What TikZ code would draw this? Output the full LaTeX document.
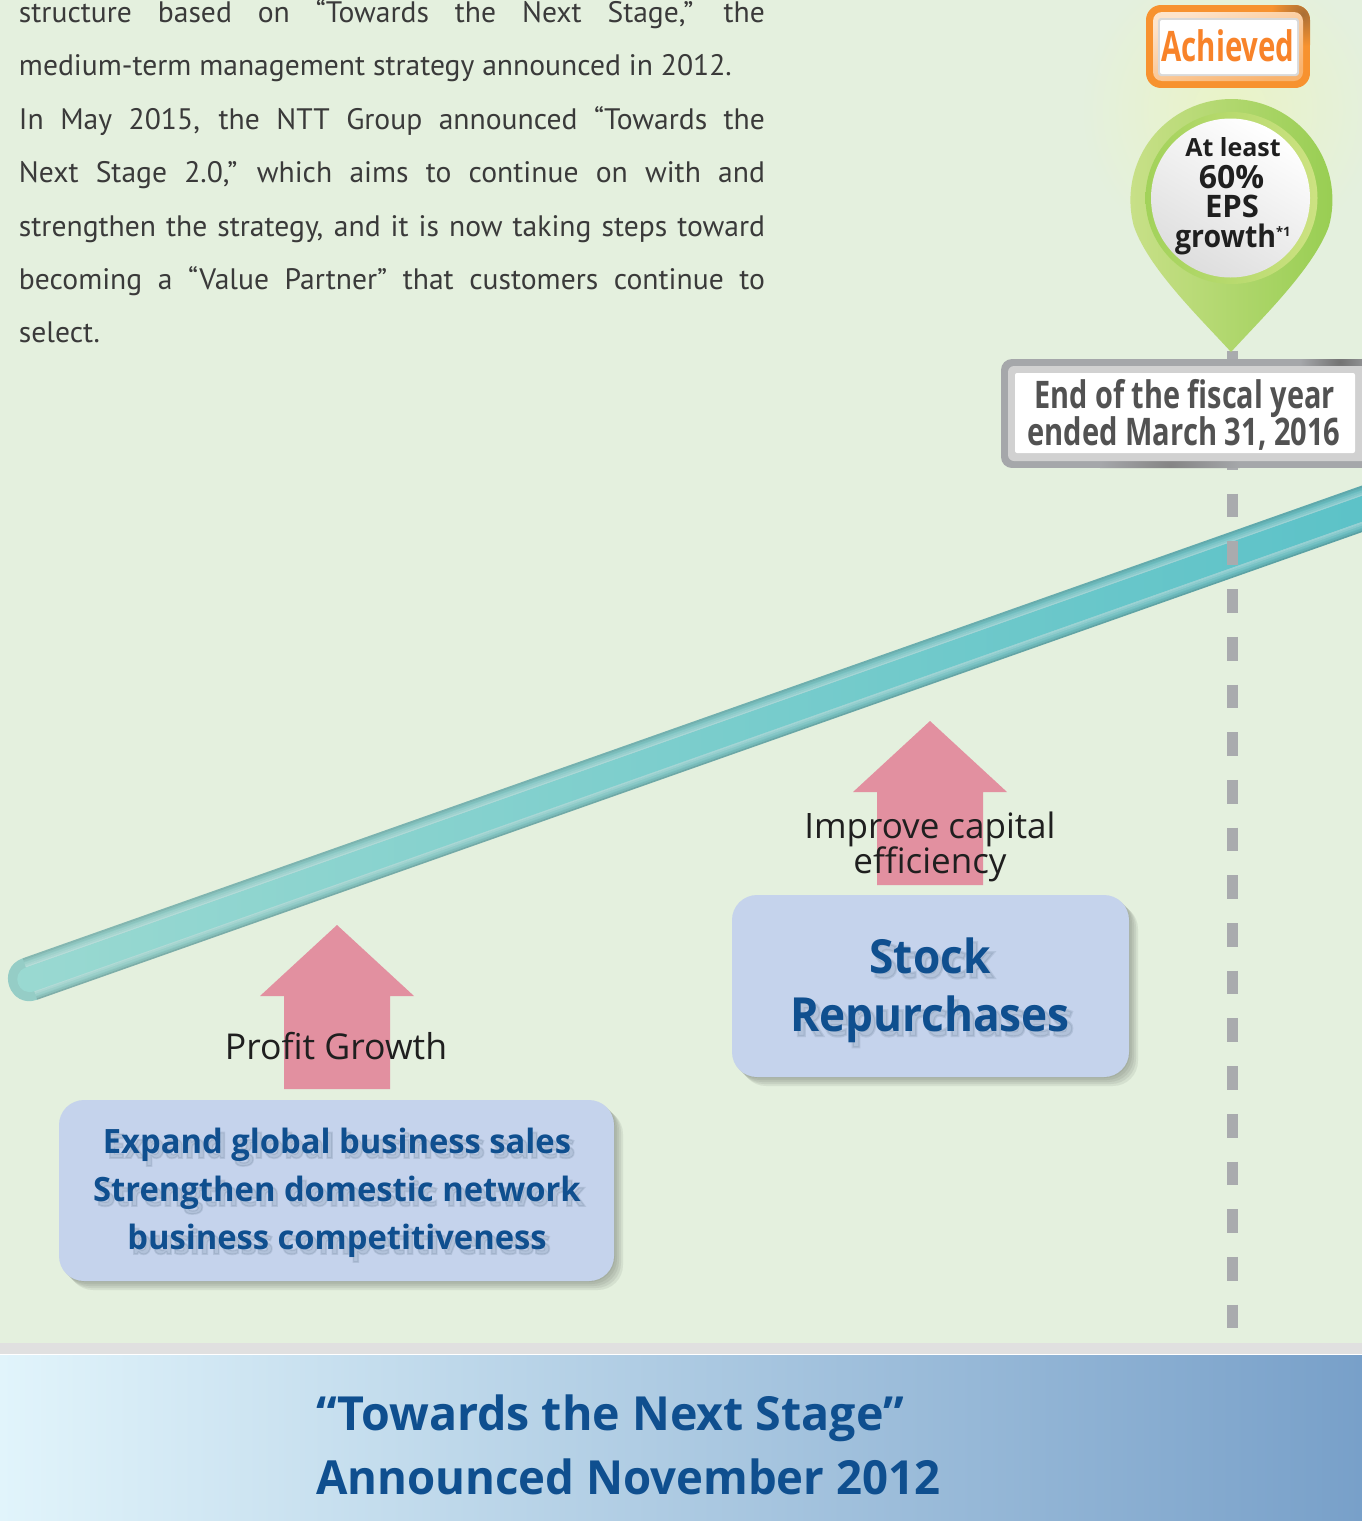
\documentclass[tikz,border=0pt]{standalone}
\usepackage{fontspec}
\usepackage{graphicx}
\setmainfont{Open Sans}
\newfontfamily\bodyfont{PT Sans}
\newfontfamily\shadowfont[BoldFeatures={FakeBold=5}]{Open Sans}
\usetikzlibrary{calc}
\definecolor{pagebg}{HTML}{E4F0DE}
\definecolor{pinkarrow}{HTML}{E290A0}
\definecolor{boxblue}{HTML}{C5D3EC}
\definecolor{navy}{HTML}{0F4F8F}
\definecolor{bodygrey}{HTML}{3A3A3A}
\definecolor{orangeA}{HTML}{F7922F}
\definecolor{greyA}{HTML}{A5A7AA}
\definecolor{dashgrey}{HTML}{A9ABAE}
\newcommand{\fs}[1]{\fontsize{#1}{#1}\selectfont}
\tikzset{
  x=1pt,y=-1pt,
  every node/.style={inner sep=0pt,outer sep=0pt},
  uparrow/.style={fill=pinkarrow,draw=none},
  bluebox/.style={fill=boxblue,rounded corners=25pt,draw=none},
  boxshade/.style={fill=black!60!pagebg,opacity=0.11,rounded corners=25pt,draw=none},
  label/.style={text=black!88,anchor=base,align=center},
  navytext/.style={text=navy,font=\bfseries,anchor=base},
  navyshade/.style={text=black!40!navy!60!gray,font=\shadowfont\bfseries,anchor=base,opacity=0.13},
}
\newcommand{\softtext}[5]{% x,y,size,xscale,text
  \node[navyshade] at (#1+4,#2+5) {\fs{#3}\scalebox{#4}[1]{#5}};
  \node[navytext] at (#1,#2) {\fs{#3}\scalebox{#4}[1]{#5}};
}
\newcommand{\softbox}[4]{% x1,y1,x2,y2
  \foreach \o in {1,3,5,7,9}{
    \fill[boxshade] (#1+\o,#2+\o) rectangle (#3+\o,#4+\o);
  }
  \fill[bluebox] (#1,#2) rectangle (#3,#4);
}
% strip of the bar between vertical offsets #1 and #2 from its upper edge
\newcommand{\barstrip}[4]{%
  \fill[#3,opacity=#4] ({22.7+0.313*#1},{958.3+0.889*#1}) -- (1370,{482.7+#1}) -- (1370,{482.7+#2}) -- ({22.7+0.313*#2},{958.3+0.889*#2}) -- cycle;
}
\begin{document}
\begin{tikzpicture}
\useasboundingbox (0,0) rectangle (1362,1521);
\fill[pagebg] (0,0) rectangle (1362,1343);
% glow behind the badge
\shade[inner color=white!45!yellow!22!pagebg,outer color=pagebg,draw=none] (1230,110) circle[radius=150];
% footer band
\fill[black!12] (0,1343) rectangle (1362,1354);
\fill[white] (0,1354) rectangle (1362,1355);
\shade[left color={rgb,255:red,225;green,244;blue,251},right color={rgb,255:red,120;green,160;blue,201},draw=none] (0,1355) rectangle (1362,1521);

% body text
\node[anchor=north west,text width=746pt,align=justify,text=bodygrey] (intro) at (19,-0.8) {\bodyfont\fontsize{29.6}{53.45}\selectfont
structure based on “Towards the Next Stage,” the\linebreak
medium-term management strategy announced in 2012.\\
In May 2015, the NTT Group announced “Towards the\linebreak
Next Stage 2.0,” which aims to continue on with and\linebreak
strengthen the strategy, and it is now taking steps toward\linebreak
becoming a “Value Partner” that customers continue to\linebreak
select.\par};

% rising bar
\shade[left color={rgb,255:red,150;green,205;blue,198},right color={rgb,255:red,104;green,188;blue,192},draw=none]
  (22.7,958.3) -- (1370,482.7) -- (1370,529.3) -- (37.3,999.7)
  .. controls (9.7,1009.5) and (-4.9,968.1) .. (22.7,958.3) -- cycle;
\barstrip{0}{2}{black}{0.1}
\barstrip{2}{4}{black}{0.04}
\barstrip{5}{7}{white}{0.1}
\barstrip{7}{9}{white}{0.2}
\barstrip{9}{10.5}{white}{0.32}
\barstrip{36}{38}{white}{0.3}
\barstrip{38}{40}{white}{0.2}
\barstrip{40}{42}{white}{0.08}
\barstrip{43}{45}{black}{0.05}
\barstrip{45}{46.6}{black}{0.14}
\shade[left color={rgb,255:red,154;green,217;blue,209},right color={rgb,255:red,92;green,194;blue,200},draw=none]
  (25.8,967.6) -- (1370,493.2) -- (1370,518.7) -- (34.3,991.2)
  .. controls (18.3,996.9) and (9.8,973.3) .. (25.8,967.6) -- cycle;
\coordinate (barstart) at (30,979);
\coordinate (barend) at (1370,506);

% date line
\coordinate (dashtop) at (1232.5,350.6);
\coordinate (dashend) at (1232.5,1328);
\draw[dashgrey,line width=11pt,dash pattern=on 23.7pt off 24pt] (dashtop) -- (dashend);

% arrows
\fill[uparrow] (337,925) -- (414,996) -- (390,996) -- (390,1089) -- (284,1089) -- (284,996) -- (260,996) -- cycle;
\fill[uparrow] (930,721) -- (1007,792) -- (983,792) -- (983,885) -- (877,885) -- (877,792) -- (853,792) -- cycle;

\node[label] (profit) at (336,1059) {\fs{35.6}Profit Growth};
\node[label] (improve) at (930,838) {\fs{35}Improve capital};
\node[label] (effic) at (930,873) {\fs{35}efficiency};

% blue boxes
\softbox{59}{1100}{614}{1281}
\softbox{732}{895}{1129}{1077}
\softtext{337}{1153}{33.5}{0.977}{Expand global business sales}
\softtext{337}{1201}{33.5}{0.977}{Strengthen domestic network}
\softtext{337}{1249}{33.5}{0.977}{business competitiveness}
\softtext{930}{973}{47}{0.94}{Stock}
\softtext{930}{1031}{47}{0.94}{Repurchases}

% footer title
\node[navytext,anchor=base west] (t1) at (316,1430) {\fs{47}\scalebox{0.99}[1]{“Towards the Next Stage”}};
\node[navytext,anchor=base west] (t2) at (316,1494) {\fs{47}\scalebox{0.969}[1]{Announced November 2012}};

% Achieved badge
\begin{scope}
\clip[rounded corners=15pt] (1146,5) rectangle (1310,88);
\fill[orangeA] (1146,5) rectangle (1310,88);
\shade[inner color=orangeA!65!black!90,outer color=orangeA] (1303,14) circle[radius=32];
\end{scope}
\shade[rounded corners=9pt,left color=orangeA!25!white,right color=orangeA!70!white,shading angle=20,draw=none] (1153,12) rectangle (1303,81);
\fill[black!15,rounded corners=3pt] (1158,18) rectangle (1299,76);
\fill[white,rounded corners=2pt] (1160,20) rectangle (1297,74);
\node[text=orangeA!90!red,font=\bfseries,anchor=base] (achieved) at (1228,61) {\fs{42}\scalebox{0.7}[1]{Achieved}};

% pin
\shade[left color={rgb,255:red,200;green,224;blue,136},right color={rgb,255:red,150;green,205;blue,80},draw=none]
  (1231,352) .. controls (1262,318) and (1314,268) .. (1329,226)
  arc[start angle=14.9,end angle=-194.9,radius=101]
  .. controls (1148,268) and (1200,318) .. (1231,352) -- cycle;
\shade[left color={rgb,255:red,162;green,210;blue,90},right color={rgb,255:red,205;green,226;blue,130},draw=none] (1231.5,198) circle[radius=86];
\shade[top color=white,bottom color=black!13,shading angle=-30,draw=none] (1230.5,198) circle[radius=79.5];
\node[text=black!88,font=\bfseries,anchor=base] (atleast) at (1233,156) {\fs{25}At least};
\node[text=black!88,font=\bfseries,anchor=base] (sixty) at (1231.5,188) {\fs{32}60\%};
\node[text=black!88,font=\bfseries,anchor=base] (eps) at (1232,217) {\fs{31}EPS};
\node[text=black!88,font=\bfseries,anchor=base west] (growth) at (1175,247) {\fs{31}\scalebox{0.92}[1]{growth}\raisebox{11pt}{\fs{13}*1}};

% date box
\begin{scope}
\clip[rounded corners=11pt] (1001,359) rectangle (1375,468);
\fill[greyA] (1001,359) rectangle (1375,468);
\shade[inner color=black!55,outer color=greyA] (1340,362) circle[radius=40];
\shade[inner color=black!48,outer color=greyA] (1170,466) circle[radius=70];
\end{scope}
\fill[black!18,rounded corners=6pt] (1008,366) rectangle (1370,461);
\fill[white,rounded corners=2pt] (1015,373) rectangle (1355,453);
\node[text=black!68,font=\bfseries,anchor=base] (date1) at (1184.5,408) {\fs{38}\scalebox{0.76}[1]{End of the fiscal year}};
\node[text=black!68,font=\bfseries,anchor=base] (date2) at (1184,445) {\fs{38}\scalebox{0.766}[1]{ended March 31, 2016}};
\end{tikzpicture}
\end{document}
